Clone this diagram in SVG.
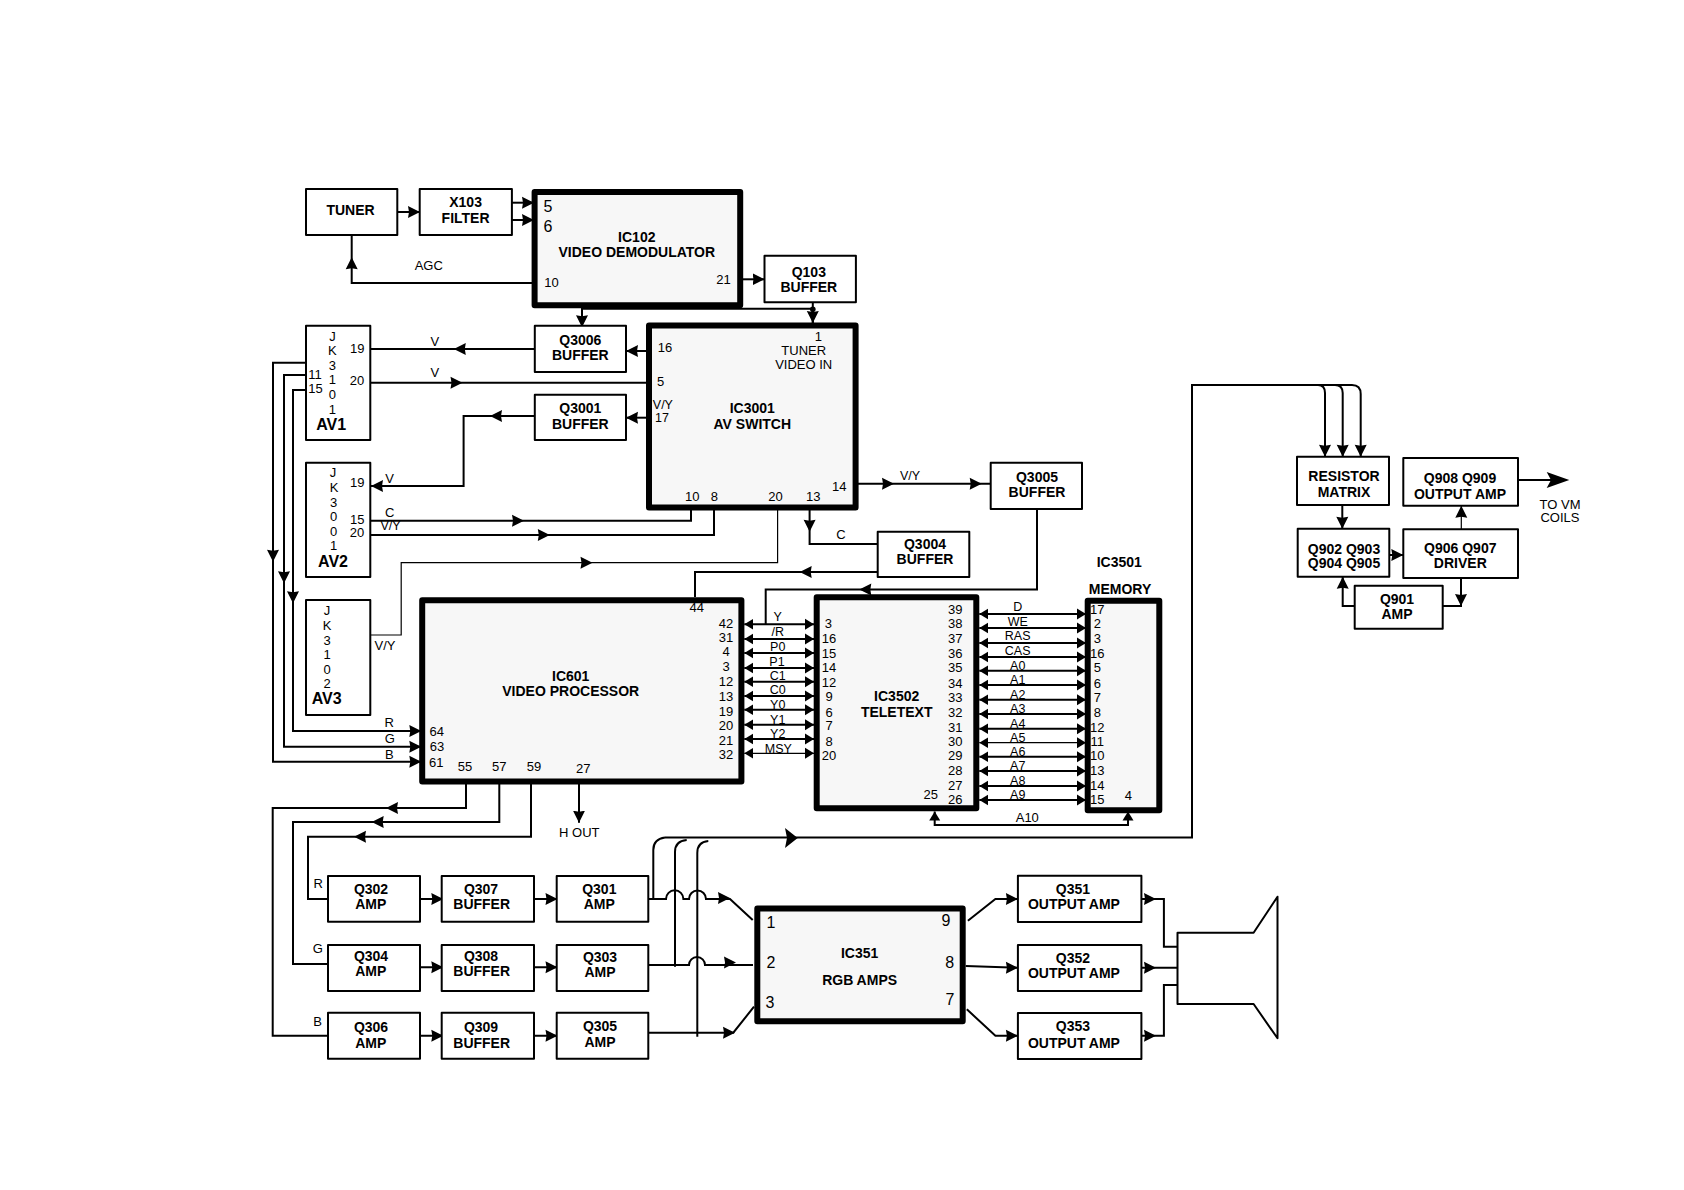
<svg xmlns="http://www.w3.org/2000/svg" width="1684" height="1190" viewBox="0 0 1684 1190">
<style>
text{font-family:"Liberation Sans",Arial,sans-serif;fill:#000;text-anchor:middle}
.t{font-size:14px;font-weight:bold}
.av{font-size:16px;font-weight:bold}
.p{font-size:13px}
.l{font-size:12.5px}
.box{fill:#fff;stroke:#000;stroke-width:2;stroke-linejoin:round}
.ic{fill:#f7f7f7;stroke:#000;stroke-width:6;stroke-linejoin:round}
.w{fill:none;stroke:#000;stroke-width:2}
.n{fill:none;stroke:#000;stroke-width:1.2}
.e{marker-end:url(#ah)}
.bus{fill:none;stroke:#000;stroke-width:2;marker-start:url(#bh);marker-end:url(#bh)}
</style>
<defs>
<marker id="ah" markerUnits="userSpaceOnUse" markerWidth="13" markerHeight="14" refX="12" refY="7" orient="auto"><path d="M0 1L12 7L0 13L1 7Z"/></marker>
<marker id="bh" markerUnits="userSpaceOnUse" markerWidth="10" markerHeight="13" refX="9" refY="6.5" orient="auto-start-reverse"><path d="M0 1L9 6.5L0 12Z"/></marker>
<path id="a" d="M-12 -6L0 0L-12 6L-11 0Z"/>
</defs>
<rect width="1684" height="1190" fill="#fff"/>
<g id="connectors">
<path class="w e" d="M397 212H420"/>
<path class="w e" d="M512 202.7H534"/>
<path class="w e" d="M512 220H534"/>
<path class="w" d="M532 283H351.7V235"/>
<use href="#a" transform="translate(351.7 257.3) rotate(-90)"/>
<path class="w e" d="M743 279.3H764.5"/>
<path class="w" d="M582 308.7H812.8V327"/>
<path class="w e" d="M582 308V327.3"/>
<path class="w e" d="M812.8 302V323"/>
<circle cx="812.8" cy="309.3" r="2.8"/>
<path class="w e" d="M646 351H626"/>
<path class="w" d="M534.8 349H370.3"/>
<use href="#a" transform="translate(453.8 349) rotate(180)"/>
<path class="w" d="M370.3 382.7H646"/>
<use href="#a" transform="translate(462.5 382.7)"/>
<path class="w e" d="M646 417.7H626"/>
<path class="w e" d="M534.8 416H463.6V486H371"/>
<use href="#a" transform="translate(490 416) rotate(180)"/>
<path class="w" d="M305.9 362.7H273V761.7H421"/>
<path class="w" d="M305.9 375H284V746.7H421"/>
<path class="w" d="M305.9 390H293V731H421"/>
<use href="#a" transform="translate(273 561.7) rotate(90)"/>
<use href="#a" transform="translate(284 583.3) rotate(90)"/>
<use href="#a" transform="translate(293 603.3) rotate(90)"/>
<use href="#a" transform="translate(421.3 731)"/>
<use href="#a" transform="translate(421.3 746.7)"/>
<use href="#a" transform="translate(421.3 761.7)"/>
<path class="w" d="M370.3 520.7H691V510"/>
<use href="#a" transform="translate(524 520.7)"/>
<path class="w" d="M370.3 535H714V510"/>
<use href="#a" transform="translate(549.8 535)"/>
<path class="n" d="M777.6 510V562.7H401.2V635H370.3"/>
<use href="#a" transform="translate(592.5 562.7)"/>
<path class="w" d="M809.6 510V544H877.7"/>
<use href="#a" transform="translate(809.6 531.7) rotate(90)"/>
<path class="w" d="M858 483.7H990.7"/>
<use href="#a" transform="translate(894 483.7)"/>
<use href="#a" transform="translate(981.7 483.7)"/>
<path class="w" d="M877.7 572H695V597"/>
<use href="#a" transform="translate(799.7 572) rotate(180)"/>
<path class="w" d="M1037 509V589.5H765.7V624.3"/>
<use href="#a" transform="translate(859.3 589.5) rotate(180)"/>
<path class="bus" d="M744.3 624.3H814"/>
<path class="bus" d="M744.3 639H814"/>
<path class="bus" d="M744.3 653H814"/>
<path class="bus" d="M744.3 668H814"/>
<path class="bus" d="M744.3 681.7H814"/>
<path class="bus" d="M744.3 696H814"/>
<path class="bus" d="M744.3 709.7H814"/>
<path class="bus" d="M744.3 724.7H814"/>
<path class="bus" d="M744.3 739H814"/>
<path class="bus" style="stroke-width:1.2" d="M744.3 753.3H814"/>
<path class="bus" d="M979.3 614H1086"/>
<path class="bus" d="M979.3 628H1086"/>
<path class="bus" d="M979.3 643H1086"/>
<path class="bus" d="M979.3 657H1086"/>
<path class="bus" d="M979.3 670.7H1086"/>
<path class="bus" d="M979.3 685H1086"/>
<path class="bus" d="M979.3 699.7H1086"/>
<path class="bus" d="M979.3 714H1086"/>
<path class="bus" d="M979.3 728.7H1086"/>
<path class="bus" style="stroke-width:1.2" d="M979.3 742.7H1086"/>
<path class="bus" d="M979.3 756.7H1086"/>
<path class="bus" d="M979.3 771H1086"/>
<path class="bus" d="M979.3 786H1086"/>
<path class="bus" d="M979.3 800H1086"/>
<path class="bus" d="M934.7 811.5V825H1128V811.5"/>
<path class="w" d="M466 784V808H272.7V1035.7H328"/>
<use href="#a" transform="translate(386 808) rotate(180)"/>
<path class="w" d="M499.3 784V822H293V964H328"/>
<use href="#a" transform="translate(371.7 822) rotate(180)"/>
<path class="w" d="M531 784V836.7H308V899H328"/>
<use href="#a" transform="translate(354 836.7) rotate(180)"/>
<path class="w e" d="M579 784V822.7"/>
<path class="w" d="M420 899H441.7M534 899H556.7M420 967.3H441.7M534 967.3H556.7M420 1035.7H441.7M534 1035.7H556.7"/>
<use href="#a" transform="translate(443.3 899)"/>
<use href="#a" transform="translate(557.5 899)"/>
<use href="#a" transform="translate(443.3 967.3)"/>
<use href="#a" transform="translate(557.5 967.3)"/>
<use href="#a" transform="translate(443.3 1035.7)"/>
<use href="#a" transform="translate(557.5 1035.7)"/>
<path class="w" d="M648.3 899H666A8.7 8.7 0 0 1 683.4 899H689A8.5 8.5 0 0 1 706 899H730L752.7 920"/>
<use href="#a" transform="translate(730 898)"/>
<path class="w" d="M648.3 965H689A8 8 0 0 1 705 965L753 965"/>
<use href="#a" transform="translate(736 962.5)"/>
<path class="w" d="M648.3 1032.7H733.3L754 1006.7"/>
<use href="#a" transform="translate(735 1032.7)"/>
<path class="w" d="M653.3 899V850Q653.3 839 665 837.5"/>
<path class="w" d="M675 966.7V852Q675 841 686.7 840"/>
<path class="w" d="M697.3 1036.7V853Q697.3 842 708.3 841"/>
<path class="w" d="M665 837.5H1192V385H1318Q1325 385 1325 393V456.7M1318 385H1335Q1342.7 385 1342.7 393V456.7M1335 385H1352Q1360.7 385 1360.7 394V456.7"/>
<path d="M785 828L797.7 838L785 848L787 838Z"/>
<use href="#a" transform="translate(1325 456.7) rotate(90)"/>
<use href="#a" transform="translate(1342.7 456.7) rotate(90)"/>
<use href="#a" transform="translate(1360.7 456.7) rotate(90)"/>
<path class="w" d="M1342.3 505V528.7"/>
<use href="#a" transform="translate(1342.3 528.7) rotate(90)"/>
<path class="w" d="M1389.3 555H1403.3"/>
<use href="#a" transform="translate(1403.3 555)"/>
<path class="n" d="M1461.3 529V506"/>
<use href="#a" transform="translate(1461.3 505.7) rotate(-90)"/>
<path class="w" d="M1518 480H1552"/>
<path d="M1546.7 472L1569.3 480L1546.7 488L1551 480Z"/>
<path class="w" d="M1461 578V606H1442.7"/>
<use href="#a" transform="translate(1461 606) rotate(90)"/>
<path class="w" d="M1354.7 606H1342.7V577"/>
<use href="#a" transform="translate(1342.7 576.7) rotate(-90)"/>
<path class="w" d="M967.9 920.7L995.4 899H1017.9"/>
<use href="#a" transform="translate(1017.9 899)"/>
<path class="w" d="M965.7 966L1017.9 967.7"/>
<use href="#a" transform="translate(1017.9 967.7)"/>
<path class="w" d="M966.8 1009.3L995.4 1035.7H1017.9"/>
<use href="#a" transform="translate(1017.9 1035.7)"/>
<path class="w" d="M1141.4 899H1163.9V946.7H1177.5"/>
<use href="#a" transform="translate(1156 899)"/>
<path class="w" d="M1141.4 967.7H1177.5"/>
<use href="#a" transform="translate(1156 967.7)"/>
<path class="w" d="M1141.4 1035.7H1163.9V985H1177.5"/>
<use href="#a" transform="translate(1156 1035.7)"/>
</g>
<g id="tuner"><rect class="box" x="306" y="189" width="91.3" height="46"/><text class="t" x="350.5" y="215">TUNER</text></g>
<g id="x103"><rect class="box" x="419.7" y="189" width="92.2" height="46"/><text class="t" x="465.6" y="206.7">X103</text><text class="t" x="465.6" y="222.7">FILTER</text></g>
<g id="ic102"><rect class="ic" x="534.6" y="192" width="205.6" height="113.3"/>
<text class="t" x="636.8" y="242">IC102</text><text class="t" x="636.8" y="257.3">VIDEO DEMODULATOR</text>
<text x="548" y="211.7" font-size="16">5</text><text x="548" y="231.7" font-size="16">6</text><text class="p" x="551.4" y="287.3">10</text><text class="p" x="723.4" y="284.3">21</text></g>
<text class="p" x="428.8" y="270">AGC</text>
<g id="q103"><rect class="box" x="764.5" y="255.7" width="91.4" height="46.6"/><text class="t" x="808.8" y="276.7">Q103</text><text class="t" x="808.8" y="291.7">BUFFER</text></g>
<g id="q3006"><rect class="box" x="534.8" y="325.7" width="91.2" height="46.3"/><text class="t" x="580.3" y="345">Q3006</text><text class="t" x="580.3" y="360">BUFFER</text></g>
<g id="q3001"><rect class="box" x="534.8" y="394.7" width="91.2" height="45.3"/><text class="t" x="580.3" y="413.3">Q3001</text><text class="t" x="580.3" y="429.3">BUFFER</text></g>
<g id="ic3001"><rect class="ic" x="649" y="325.5" width="206.6" height="182"/>
<text class="t" x="752.3" y="413.3">IC3001</text><text class="t" x="752.3" y="429.3">AV SWITCH</text>
<text class="p" x="818.3" y="340.7">1</text><text class="p" x="803.7" y="355">TUNER</text><text class="p" x="803.7" y="369">VIDEO IN</text>
<text class="p" x="664.9" y="351.7">16</text><text class="p" x="660.5" y="386">5</text><text class="l" x="662.9" y="409">V/Y</text><text class="l" x="662" y="422">17</text>
<text class="p" x="692.2" y="501">10</text><text class="p" x="714.3" y="501">8</text><text class="p" x="775.6" y="501">20</text><text class="p" x="813.2" y="501">13</text><text class="p" x="839.3" y="490.7">14</text></g>
<text class="p" x="434.8" y="345.7">V</text><text class="p" x="434.8" y="377.3">V</text>
<g id="av1"><rect class="box" x="306" y="325.7" width="64.3" height="114.3"/>
<text class="p" x="332.4" y="340.7">J</text><text class="p" x="332.4" y="355">K</text><text class="p" x="332.4" y="370">3</text><text class="p" x="332.4" y="384">1</text><text class="p" x="332.4" y="399">0</text><text class="p" x="332.4" y="414">1</text>
<text class="p" x="357.3" y="352.7">19</text><text class="p" x="356.9" y="385">20</text><text class="p" x="315" y="379">11</text><text class="p" x="315.4" y="393.3">15</text><text class="av" x="331.2" y="430">AV1</text></g>
<g id="av2"><rect class="box" x="306" y="462.7" width="64.3" height="114.3"/>
<text class="p" x="333" y="476.7">J</text><text class="p" x="334" y="492">K</text><text class="p" x="333.5" y="506.7">3</text><text class="p" x="333.5" y="521">0</text><text class="p" x="333.5" y="535.7">0</text><text class="p" x="333.5" y="550">1</text>
<text class="p" x="357.3" y="486.7">19</text><text class="p" x="357.3" y="524">15</text><text class="p" x="356.9" y="536.7">20</text><text class="av" x="333" y="566.7">AV2</text></g>
<text class="p" x="389.7" y="482.7">V</text><text class="p" x="389.7" y="516.7">C</text><text class="l" x="390.5" y="530">V/Y</text>
<g id="av3"><rect class="box" x="306" y="600" width="64.3" height="115"/>
<text class="p" x="327" y="615">J</text><text class="p" x="327" y="630">K</text><text class="p" x="327" y="645">3</text><text class="p" x="327" y="659.3">1</text><text class="p" x="327" y="674">0</text><text class="p" x="327" y="688.3">2</text><text class="av" x="326.7" y="704.3">AV3</text></g>
<text class="p" x="385" y="650">V/Y</text><text class="p" x="389.3" y="726.7">R</text><text class="p" x="389.7" y="742.7">G</text><text class="p" x="389.3" y="758.7">B</text>
<text class="p" x="841" y="539">C</text>
<text class="l" x="910" y="480">V/Y</text>
<g id="q3005"><rect class="box" x="990.7" y="462.7" width="91.3" height="46.3"/><text class="t" x="1037" y="482">Q3005</text><text class="t" x="1037" y="497">BUFFER</text></g>
<g id="q3004"><rect class="box" x="877.7" y="531.7" width="91.6" height="45.3"/><text class="t" x="925" y="548.5">Q3004</text><text class="t" x="925" y="564">BUFFER</text></g>
<g id="ic601"><rect class="ic" x="422.2" y="600.2" width="319.2" height="181.2"/>
<text class="t" x="570.7" y="680.7">IC601</text><text class="t" x="570.7" y="695.5">VIDEO PROCESSOR</text>
<text class="p" x="696.7" y="611.7">44</text>
<text class="p" x="726" y="627.7">42</text><text class="p" x="726" y="641.7">31</text><text class="p" x="726" y="656.3">4</text><text class="p" x="726" y="670.7">3</text><text class="p" x="726" y="685.7">12</text><text class="p" x="726" y="700.7">13</text><text class="p" x="726" y="715.7">19</text><text class="p" x="726" y="730">20</text><text class="p" x="726" y="745">21</text><text class="p" x="726" y="758.7">32</text>
<text class="p" x="436.7" y="735.7">64</text><text class="p" x="437" y="750.7">63</text><text class="p" x="436.3" y="766.7">61</text>
<text class="p" x="465" y="770.7">55</text><text class="p" x="499.3" y="770.7">57</text><text class="p" x="534" y="770.7">59</text><text class="p" x="583.3" y="772.7">27</text></g>
<text class="p" x="579.3" y="837">H OUT</text>
<g id="bus-labels-left">
<text class="l" x="777.7" y="620.7">Y</text><text class="l" x="777.7" y="636">/R</text><text class="l" x="777.7" y="651">P0</text><text class="l" x="777" y="665.7">P1</text><text class="l" x="777.7" y="680.3">C1</text><text class="l" x="777.7" y="694.3">C0</text><text class="l" x="777.7" y="709">Y0</text><text class="l" x="777.7" y="723.7">Y1</text><text class="l" x="777.7" y="738.3">Y2</text><text class="l" x="778.3" y="753">MSY</text></g>
<g id="ic3502"><rect class="ic" x="816.7" y="597.3" width="159.6" height="211"/>
<text class="t" x="896.7" y="700.7">IC3502</text><text class="t" x="896.7" y="716.7">TELETEXT</text>
<text class="p" x="828.3" y="628.3">3</text><text class="p" x="829" y="643.3">16</text><text class="p" x="829" y="657.7">15</text><text class="p" x="829" y="672.3">14</text><text class="p" x="829" y="687.3">12</text><text class="p" x="829" y="701.3">9</text><text class="p" x="829" y="716.7">6</text><text class="p" x="829" y="730.3">7</text><text class="p" x="829" y="745.7">8</text><text class="p" x="829" y="760.3">20</text>
<text class="p" x="955.3" y="614.3">39</text><text class="p" x="955.3" y="628.3">38</text><text class="p" x="955.3" y="643.3">37</text><text class="p" x="955.3" y="657.7">36</text><text class="p" x="955.3" y="672.3">35</text><text class="p" x="955.3" y="687.7">34</text><text class="p" x="955.3" y="702.3">33</text><text class="p" x="955.3" y="716.7">32</text><text class="p" x="955.3" y="731.7">31</text><text class="p" x="955.3" y="745.7">30</text><text class="p" x="955.3" y="760.3">29</text><text class="p" x="955.3" y="775.3">28</text><text class="p" x="955.3" y="789.7">27</text><text class="p" x="955.3" y="804.3">26</text><text class="p" x="930.7" y="799">25</text></g>
<g id="bus-labels-right">
<text class="l" x="1017.7" y="611.3">D</text><text class="l" x="1017.7" y="625.7">WE</text><text class="l" x="1017.7" y="640.3">RAS</text><text class="l" x="1017.7" y="655.3">CAS</text><text class="l" x="1017.7" y="670">A0</text><text class="l" x="1017.7" y="684">A1</text><text class="l" x="1017.7" y="698.7">A2</text><text class="l" x="1017.7" y="713.3">A3</text><text class="l" x="1017.7" y="728">A4</text><text class="l" x="1017.7" y="742">A5</text><text class="l" x="1017.7" y="756">A6</text><text class="l" x="1017.7" y="770.3">A7</text><text class="l" x="1017.7" y="785.3">A8</text><text class="l" x="1017.7" y="799.3">A9</text><text class="p" x="1027.3" y="822.3">A10</text></g>
<g id="ic3501"><rect class="ic" x="1087.7" y="600.7" width="71.6" height="209.6"/>
<text class="t" x="1119.3" y="566.7">IC3501</text><text class="t" x="1120" y="593.7">MEMORY</text>
<text class="p" x="1097.3" y="614.3">17</text><text class="p" x="1097.3" y="628.3">2</text><text class="p" x="1097.3" y="643.3">3</text><text class="p" x="1097.3" y="657.7">16</text><text class="p" x="1097.3" y="672.3">5</text><text class="p" x="1097.3" y="687.7">6</text><text class="p" x="1097.3" y="702.3">7</text><text class="p" x="1097.3" y="716.7">8</text><text class="p" x="1097.3" y="731.7">12</text><text class="p" x="1097.3" y="745.7">11</text><text class="p" x="1097.3" y="760.3">10</text><text class="p" x="1097.3" y="775.3">13</text><text class="p" x="1097.3" y="789.7">14</text><text class="p" x="1097.3" y="804.3">15</text><text class="p" x="1128.3" y="800.3">4</text></g>
<text class="p" x="318.3" y="888.3">R</text><text class="p" x="317.7" y="953.3">G</text><text class="p" x="317.7" y="1026">B</text>
<g id="q302"><rect class="box" x="328" y="876" width="92" height="45.7"/><text class="t" x="371" y="894.3">Q302</text><text class="t" x="370.7" y="909.3">AMP</text></g>
<g id="q307"><rect class="box" x="441.7" y="876" width="92.3" height="45.7"/><text class="t" x="481" y="894.3">Q307</text><text class="t" x="481.7" y="909.3">BUFFER</text></g>
<g id="q301"><rect class="box" x="556.7" y="876" width="91.6" height="45.7"/><text class="t" x="599.3" y="894.3">Q301</text><text class="t" x="599.3" y="909.3">AMP</text></g>
<g id="q304"><rect class="box" x="328" y="945" width="92" height="46"/><text class="t" x="371" y="961">Q304</text><text class="t" x="370.7" y="976.3">AMP</text></g>
<g id="q308"><rect class="box" x="441.7" y="945" width="92.3" height="46"/><text class="t" x="481" y="961">Q308</text><text class="t" x="481.7" y="976.3">BUFFER</text></g>
<g id="q303"><rect class="box" x="556.7" y="945" width="91.6" height="46"/><text class="t" x="600" y="962">Q303</text><text class="t" x="600" y="977.3">AMP</text></g>
<g id="q306"><rect class="box" x="328" y="1012.7" width="92" height="46"/><text class="t" x="371" y="1032.3">Q306</text><text class="t" x="370.7" y="1048">AMP</text></g>
<g id="q309"><rect class="box" x="441.7" y="1012.7" width="92.3" height="46"/><text class="t" x="481" y="1032.3">Q309</text><text class="t" x="481.7" y="1048">BUFFER</text></g>
<g id="q305"><rect class="box" x="556.7" y="1012.7" width="91.6" height="46"/><text class="t" x="600" y="1031.3">Q305</text><text class="t" x="600" y="1046.7">AMP</text></g>
<g id="ic351"><rect class="ic" x="757.3" y="908.5" width="205.4" height="112.7"/>
<text class="t" x="859.6" y="957.7">IC351</text><text class="t" x="859.6" y="984.7">RGB AMPS</text>
<text x="771" y="927.7" font-size="16">1</text><text x="771" y="968.3" font-size="16">2</text><text x="770" y="1008.3" font-size="16">3</text><text x="946" y="926" font-size="16">9</text><text x="949.6" y="968" font-size="16">8</text><text x="950" y="1005" font-size="16">7</text></g>
<g id="q351"><rect class="box" x="1017.9" y="875.7" width="123.5" height="46.3"/><text class="t" x="1072.9" y="894.3">Q351</text><text class="t" x="1073.9" y="909.3">OUTPUT AMP</text></g>
<g id="q352"><rect class="box" x="1017.9" y="945" width="123.5" height="46"/><text class="t" x="1072.9" y="963.3">Q352</text><text class="t" x="1073.9" y="978.3">OUTPUT AMP</text></g>
<g id="q353"><rect class="box" x="1017.9" y="1013" width="123.5" height="46"/><text class="t" x="1072.9" y="1031">Q353</text><text class="t" x="1073.9" y="1047.7">OUTPUT AMP</text></g>
<g id="speaker"><path class="w" stroke-linejoin="round" d="M1177.5 932.7H1253.6L1277.5 896.7V1038.3L1253.6 1004H1177.5Z"/></g>
<g id="resistor-matrix"><rect class="box" x="1297" y="456.7" width="92" height="48.3"/><text class="t" x="1344" y="481">RESISTOR</text><text class="t" x="1344" y="496.7">MATRIX</text></g>
<g id="q908"><rect class="box" x="1403.3" y="458" width="114.7" height="47.7"/><text class="t" x="1460" y="483.3">Q908 Q909</text><text class="t" x="1460" y="499.3">OUTPUT AMP</text></g>
<g id="q902"><rect class="box" x="1297.7" y="528.7" width="91.6" height="48"/><text class="t" x="1344" y="553.8">Q902 Q903</text><text class="t" x="1344" y="568.3">Q904 Q905</text></g>
<g id="q906"><rect class="box" x="1403.3" y="529.3" width="114.7" height="48.7"/><text class="t" x="1460.3" y="553">Q906 Q907</text><text class="t" x="1460.3" y="567.7">DRIVER</text></g>
<g id="q901"><rect class="box" x="1354.7" y="585.7" width="88" height="43"/><text class="t" x="1397" y="604">Q901</text><text class="t" x="1397" y="619.3">AMP</text></g>
<text class="p" x="1560" y="509">TO VM</text><text class="p" x="1560" y="522">COILS</text>
</svg>
